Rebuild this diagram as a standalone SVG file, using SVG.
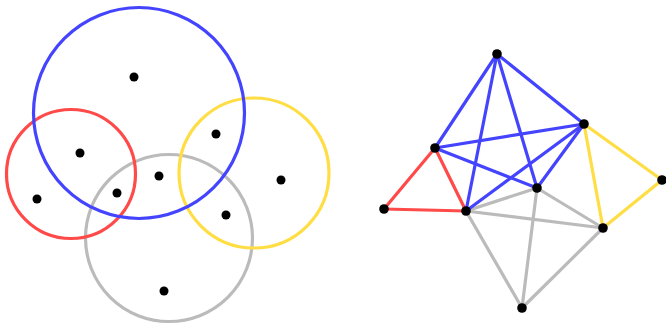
<svg xmlns="http://www.w3.org/2000/svg" width="666" height="325" viewBox="0 0 666 325">
<style>
.c{fill:none;stroke-width:3.2}
.e{stroke-width:3.2;stroke-linecap:round}
.blue{stroke:#4444ff}
.red{stroke:#ff4a4a}
.yellow{stroke:#ffdd44}
.gray{stroke:#bbbbbb}
.dot{fill:#000}
</style>
<rect width="666" height="325" fill="#fff"/>
<g id="circles">
<circle class="c gray" cx="169" cy="238" r="83.5"/>
<circle class="c yellow" cx="254" cy="173" r="75"/>
<circle class="c red" cx="71" cy="174" r="64.5"/>
<circle class="c blue" cx="139" cy="113" r="105.5"/>
</g>
<g id="points">
<circle class="dot" cx="134" cy="77" r="4.5"/>
<circle class="dot" cx="80" cy="153" r="4.5"/>
<circle class="dot" cx="37" cy="199" r="4.5"/>
<circle class="dot" cx="117" cy="193" r="4.5"/>
<circle class="dot" cx="159" cy="176" r="4.5"/>
<circle class="dot" cx="216" cy="134" r="4.5"/>
<circle class="dot" cx="281" cy="180" r="4.5"/>
<circle class="dot" cx="226" cy="215" r="4.5"/>
<circle class="dot" cx="164" cy="291" r="4.5"/>
</g>
<g id="connectors">
<line class="e gray" x1="466" y1="211" x2="537" y2="188"/>
<line class="e gray" x1="466" y1="211" x2="603" y2="228"/>
<line class="e gray" x1="466" y1="211" x2="522" y2="308"/>
<line class="e gray" x1="537" y1="188" x2="603" y2="228"/>
<line class="e gray" x1="537" y1="188" x2="522" y2="308"/>
<line class="e gray" x1="603" y1="228" x2="522" y2="308"/>
<line class="e yellow" x1="584" y1="124" x2="662" y2="180"/>
<line class="e yellow" x1="662" y1="180" x2="603" y2="228"/>
<line class="e yellow" x1="584" y1="124" x2="603" y2="228"/>
<line class="e red" x1="435" y1="148" x2="384" y2="209"/>
<line class="e red" x1="384" y1="209" x2="466" y2="211"/>
<line class="e red" x1="435" y1="148" x2="466" y2="211"/>
<line class="e blue" x1="497" y1="54" x2="435" y2="148"/>
<line class="e blue" x1="497" y1="54" x2="466" y2="211"/>
<line class="e blue" x1="497" y1="54" x2="537" y2="188"/>
<line class="e blue" x1="497" y1="54" x2="584" y2="124"/>
<line class="e blue" x1="435" y1="148" x2="584" y2="124"/>
<line class="e blue" x1="435" y1="148" x2="537" y2="188"/>
<line class="e blue" x1="466" y1="211" x2="584" y2="124"/>
<line class="e blue" x1="537" y1="188" x2="584" y2="124"/>
</g>
<g id="node-A"><circle class="dot" cx="497" cy="54" r="4.8"/></g>
<g id="node-B"><circle class="dot" cx="584" cy="124" r="4.8"/></g>
<g id="node-C"><circle class="dot" cx="435" cy="148" r="4.8"/></g>
<g id="node-D"><circle class="dot" cx="537" cy="188" r="4.8"/></g>
<g id="node-E"><circle class="dot" cx="384" cy="209" r="4.8"/></g>
<g id="node-F"><circle class="dot" cx="466" cy="211" r="4.8"/></g>
<g id="node-G"><circle class="dot" cx="662" cy="180" r="4.8"/></g>
<g id="node-H"><circle class="dot" cx="603" cy="228" r="4.8"/></g>
<g id="node-I"><circle class="dot" cx="522" cy="308" r="4.8"/></g>
</svg>
